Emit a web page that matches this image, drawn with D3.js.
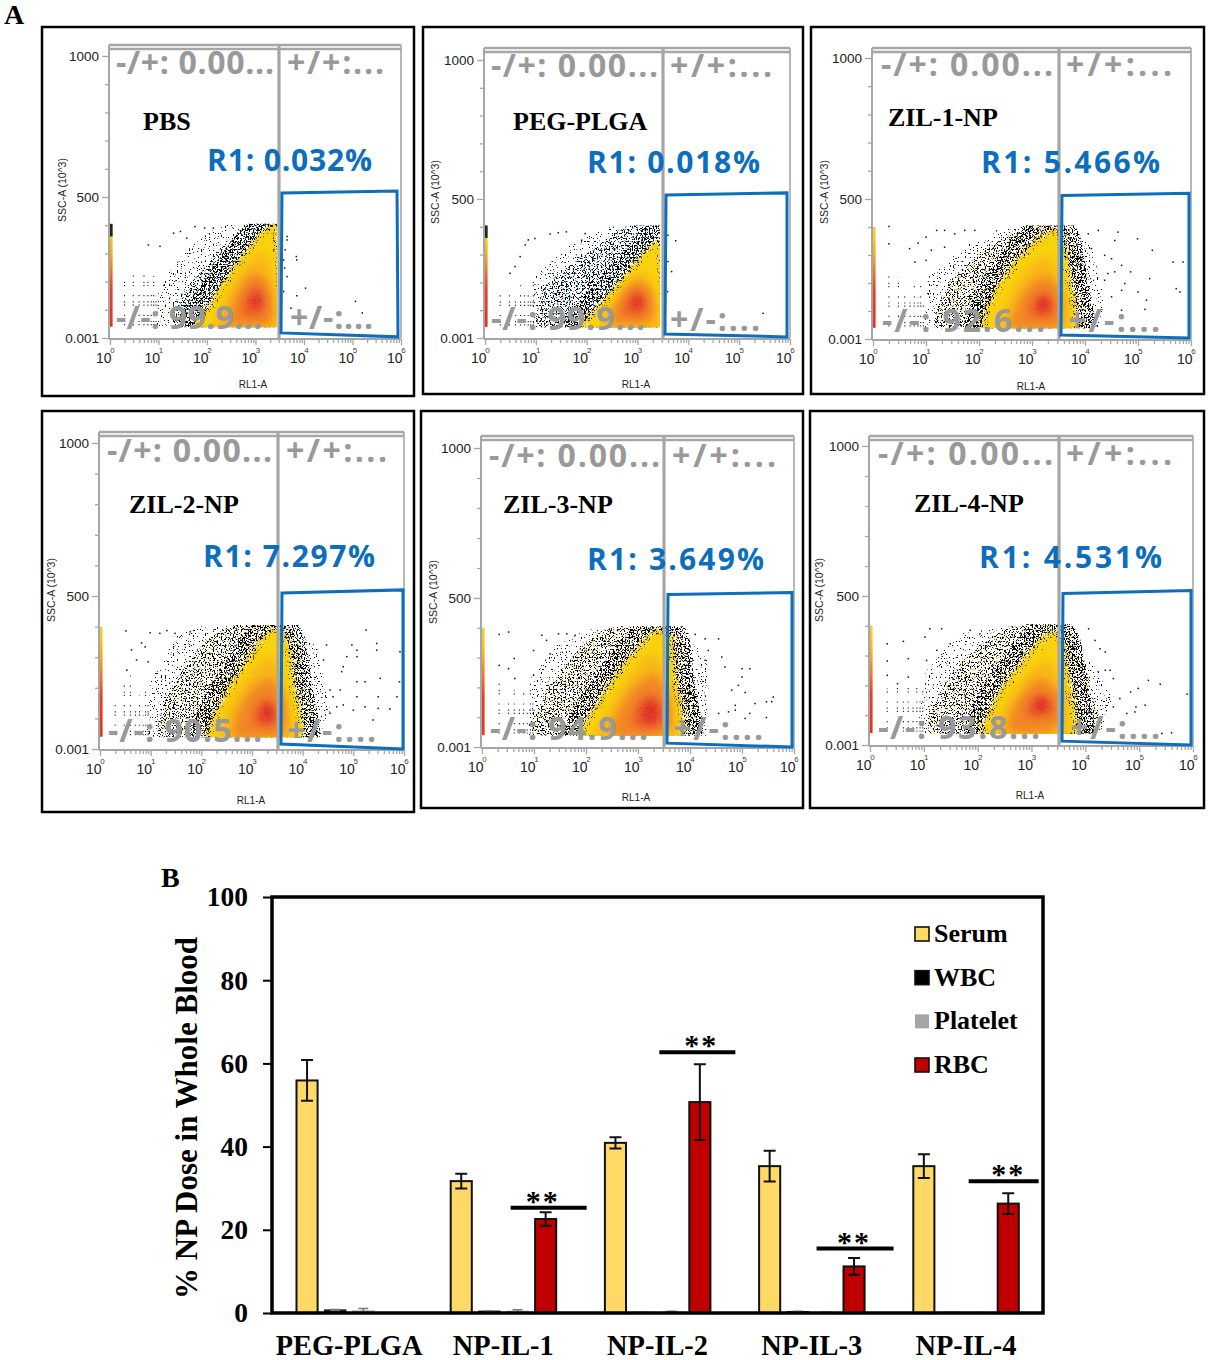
<!DOCTYPE html>
<html><head><meta charset="utf-8">
<style>
html,body{margin:0;padding:0;background:#fff}
svg{display:block}
text{white-space:pre}
</style>
<script src="https://cdn.jsdelivr.net/npm/d3@7"></script>
</head><body>
<svg id="c" width="1209" height="1360"></svg>
<script>
// ---------- Panel A data (x = log10 RL1-A, y = SSC-A) ----------
const panelNames = ["PBS","PEG-PLGA","ZIL-1-NP","ZIL-2-NP","ZIL-3-NP","ZIL-4-NP"];
const r1Labels = ["R1: 0.032%","R1: 0.018%","R1: 5.466%","R1: 7.297%","R1: 3.649%","R1: 4.531%"];
const quadLL = ["-/-: 99.9...","-/-: 99.9...","-/-: 92.6...","-/-: 90.5...","-/-: 94.9...","-/-: 93.8..."];
const quadUL = "-/+: 0.00...", quadUR = "+/+:...", quadLR = "+/-:...";
const yTicks = [0.001,500,1000];
const yMinor = [100,200,300,400,600,700,800,900];
const xDecades = [0,1,2,3,4,5,6];
const xMinorMult = [2,3,4,5,6,7,8,9];

const gates = [
 [[3.546,514],[5.918,521],[5.938,4],[3.526,18]],
 [[3.561,514],[5.941,522],[5.941,4],[3.541,14]],
 [[3.566,512],[5.962,520],[5.962,4],[3.547,14]],
 [[3.592,510],[5.980,520],[5.980,0],[3.572,16]],
 [[3.577,512],[5.962,518],[5.962,0],[3.558,13]],
 [[3.585,508],[5.963,518],[5.963,0],[3.567,13]]];

const cloudSparse = [
 [[0.95,40],[1.0,170],[1.3,255],[1.7,330],[2.1,380],[2.5,405],[3.44,405],[3.44,40]],
 [[0.92,40],[0.98,220],[1.7,340],[2.43,400],[3.44,405],[3.44,40]],
 [[0.97,40],[1.04,222],[1.8,340],[2.36,394],[3.5,405],[4.12,340],[4.37,140],[4.25,40]],
 [[0.92,36],[1.0,220],[1.45,367],[1.97,400],[3.7,405],[4.28,335],[4.54,127],[4.34,36]],
 [[0.89,36],[0.95,235],[1.47,347],[2.05,397],[3.84,391],[4.35,291],[4.35,36]],
 [[0.87,39],[1.05,262],[1.67,373],[2.54,398],[3.78,373],[4.52,162],[4.27,39]]];
const cloudDense = [
 [[1.35,25],[1.45,150],[1.9,240],[2.3,320],[2.7,385],[3.0,410],[3.5,410],[3.5,25]],
 [[1.11,25],[1.18,185],[2.1,317],[2.69,394],[3.0,410],[3.5,410],[3.5,25]],
 [[1.25,25],[1.42,198],[2.04,305],[2.67,388],[3.0,412],[3.6,412],[3.95,300],[4.06,150],[4.1,25]],
 [[1.25,25],[1.38,193],[2.04,345],[2.57,400],[3.0,415],[3.68,412],[4.0,300],[4.08,204],[4.18,25]],
 [[1.08,25],[1.21,180],[1.79,313],[2.3,391],[3.0,412],[3.71,410],[4.02,280],[4.1,180],[4.14,25]],
 [[1.18,25],[1.36,195],[1.92,318],[2.6,396],[3.2,412],[3.65,400],[3.98,280],[4.09,184],[4.18,25]]];
const cloudYellow = [
 [[1.75,25],[2.05,120],[2.4,215],[2.8,310],[3.1,375],[3.3,395],[3.44,395],[3.52,200],[3.5,25]],
 [[1.9,25],[2.4,149],[2.9,257],[3.25,330],[3.44,350],[3.52,200],[3.5,25]],
 [[2.1,25],[2.3,170],[2.7,280],[3.1,360],[3.4,392],[3.6,350],[3.72,220],[3.8,25]],
 [[2.17,25],[2.4,160],[2.85,280],[3.2,365],[3.5,395],[3.72,350],[3.85,200],[3.95,25]],
 [[1.92,25],[2.25,157],[2.7,270],[3.05,350],[3.35,392],[3.65,370],[3.75,220],[3.82,25]],
 [[2.1,25],[2.35,162],[2.8,275],[3.1,345],[3.38,382],[3.6,340],[3.72,200],[3.78,25]]];
const cloudAmber = [
 [[2.15,25],[2.3,110],[2.55,200],[2.9,275],[3.2,300],[3.38,200],[3.42,25]],
 [[2.3,25],[2.5,120],[2.75,190],[3.05,235],[3.3,190],[3.4,25]],
 [[2.4,25],[2.55,140],[2.9,245],[3.3,295],[3.55,200],[3.65,25]],
 [[2.4,25],[2.55,140],[3.0,255],[3.4,305],[3.65,200],[3.8,25]],
 [[2.2,25],[2.45,130],[2.85,240],[3.3,315],[3.6,200],[3.7,25]],
 [[2.35,25],[2.5,130],[2.95,240],[3.3,285],[3.55,190],[3.62,25]]];
const cloudOrange = [
 [[2.45,45],[2.5,110],[2.68,180],[2.95,230],[3.22,205],[3.36,120],[3.28,50]],
 [[2.5,55],[2.55,115],[2.75,170],[3.0,205],[3.25,175],[3.33,100],[3.18,55]],
 [[2.62,40],[2.7,115],[2.92,185],[3.25,225],[3.52,175],[3.58,90],[3.44,40]],
 [[2.65,40],[2.72,120],[3.0,195],[3.35,230],[3.63,170],[3.66,85],[3.5,40]],
 [[2.5,35],[2.62,120],[2.9,195],[3.3,245],[3.58,175],[3.62,80],[3.4,35]],
 [[2.58,45],[2.66,125],[2.92,190],[3.2,222],[3.5,175],[3.55,95],[3.34,45]]];
const cloudRed = [
 [[2.72,90],[2.8,150],[3.0,190],[3.18,160],[3.2,105],[3.05,75]],
 [[2.72,90],[2.78,135],[2.98,175],[3.15,150],[3.17,100],[3.0,80]],
 [[2.95,90],[3.0,135],[3.2,170],[3.4,140],[3.42,95],[3.25,75]],
 [[3.02,85],[3.08,135],[3.3,165],[3.5,130],[3.5,85],[3.3,70]],
 [[2.9,75],[2.98,140],[3.25,180],[3.48,140],[3.5,85],[3.25,60]],
 [[2.9,105],[2.98,150],[3.15,175],[3.38,150],[3.4,110],[3.15,90]]];
const cloudCore = [
 [[2.88,118],[2.95,150],[3.05,155],[3.12,125],[3.0,105]],
 [[2.88,115],[2.95,145],[3.05,150],[3.1,120],[3.0,105]],
 [[3.1,105],[3.15,140],[3.27,150],[3.33,115],[3.2,95]],
 [[3.18,100],[3.22,140],[3.36,145],[3.42,105],[3.3,90]],
 [[3.08,95],[3.15,150],[3.33,150],[3.4,100],[3.25,80]],
 [[3.05,125],[3.12,155],[3.25,155],[3.3,125],[3.18,110]]];
const cloudXMax = [3.44,3.44,6,6,6,6];
const cloudSpeck = ["#2f8db5","#2f8db5","#d9c41c","#d9c41c","#d9c41c","#d9c41c"];

const looseDots = [
 [[3.65,360],[3.65,348],[3.61,313],[3.84,289],[3.85,277],[3.58,277],[3.6,248],[3.65,218],[4.03,177],[3.85,150],[3.58,165],[5.06,130],[5.2,89],[3.73,106],[0.79,330],[1.03,325],[1.31,372],[1.45,378],[1.75,395],[1.95,390],[1.58,354],[2.13,390]],
 [[3.6,370],[3.75,350],[3.6,275],[3.67,239],[3.59,167],[5.47,89],[0.79,335],[0.85,353],[0.98,358],[1.28,374],[1.44,379],[1.6,382],[1.9,352],[0.49,233],[0.59,257],[0.69,293],[1.97,376]],
 [[4.62,382],[4.56,352],[4.99,358],[5.27,317],[5.85,275],[5.66,275],[5.72,180],[5.79,168],[5.22,216],[4.86,240],[4.69,263],[4.69,174],[5,168],[5.16,139],[5.13,106],[4.69,103],[4.75,198],[4.37,299],[4.5,287],[4.12,323],[4.06,376],[4.25,388],[4.43,234],[4.37,210],[4.5,151],[4.56,240],[0.3,402],[0.3,340],[0.69,323],[0.85,343],[1,364],[1.2,388],[1.35,388],[0.79,275],[1,281],[1.54,376],[1.73,388],[1.92,388],[1.35,328],[1.1,317]],
 [[5.25,389],[4.97,340],[5.07,323],[5.46,345],[5.46,323],[4.87,302],[4.8,269],[5.07,302],[5.92,318],[5.91,220],[5.53,231],[5.07,220],[5.23,220],[4.77,253],[4.47,340],[4.54,193],[4.74,193],[4.6,171],[4.8,144],[5,127],[5.23,138],[5.49,133],[5.72,131],[5.49,171],[5.39,95],[5.86,171],[4.41,291],[4.67,138],[5.07,171],[4.54,117],[0.51,386],[0.62,324],[0.82,347],[0.89,334],[0.99,380],[1.18,378],[1.32,387],[1.48,378],[1.78,383],[0.72,291],[0.95,285],[0.53,258],[1.45,334]],
 [[4.8,191],[4.93,207],[5.06,183],[5,235],[5,263],[5.15,263],[4.67,269],[4.61,302],[4.55,363],[4.29,363],[5.6,168],[5.47,152],[5.57,152],[5.25,146],[5.47,99],[5.15,113],[4.87,140],[4.74,118],[4.87,124],[5.06,96],[4.55,113],[4.35,324],[4.29,291],[4.1,378],[0.33,378],[0.51,386],[0.33,274],[0.62,297],[0.51,263],[0.63,230],[1.15,375],[1.24,358],[1.47,380],[1.63,380],[1.79,375],[0.99,324],[1.31,313],[0.99,241]],
 [[5.17,217],[5.39,204],[5.89,171],[4.98,190],[4.84,178],[5.11,134],[4.94,128],[4.92,111],[4.77,106],[5.6,41],[5.42,39],[4.46,251],[4.37,251],[4.24,245],[4.52,223],[4.37,312],[4.27,323],[4.18,351],[4.06,390],[4.64,156],[4.52,128],[0.62,348],[0.32,340],[0.32,282],[0.71,290],[1.11,390],[1.33,390],[1.02,362],[1.05,284],[1.24,318],[1.49,340],[1.86,385],[2.04,373],[0.32,234],[0.51,206],[0.71,228]]];

const stackColumns = [
 [[0.3,215],[0.48,240],[0.6,170],[0.7,240],[0.78,205],[0.85,170],[0.9,220],[0.95,150]],
 [[0.3,180],[0.48,175],[0.6,140],[0.7,190],[0.78,160],[0.85,185],[0.9,150],[0.95,205]],
 [[0.3,237],[0.48,220],[0.6,160],[0.7,130],[0.78,190],[0.85,150],[0.9,190],[0.95,120]],
 [[0.3,150],[0.48,210],[0.6,240],[0.7,130],[0.78,175],[0.85,110],[0.9,200],[0.95,150]],
 [[0.33,225],[0.51,160],[0.62,190],[0.72,130],[0.8,180],[0.87,120],[0.93,215],[0.98,160]],
 [[0.32,190],[0.51,200],[0.62,150],[0.71,205],[0.8,130],[0.87,200],[0.93,150],[0.98,180]]];

const stripStops = [[40,"#e8321e"],[170,"#ea3e20"],[240,"#f0762a"],[300,"#f4ab1f"],[360,"#f6cc1a"],[400,"#e4d24a"]];

// ---------- Panel B data ----------
const groups = ["PEG-PLGA","NP-IL-1","NP-IL-2","NP-IL-3","NP-IL-4"];
const seriesNames = ["Serum","WBC","Platelet","RBC"];
const serumValues = [55.9,31.7,40.9,35.3,35.3];
const serumErr = [4.9,1.8,1.35,3.7,2.85];
const wbcValues = [0.7,0.4,0.1,0.3,0.1];
const wbcErr = [0.15,0.1,0.05,0.15,0.05];
const plateletValues = [0.5,0.4,0.2,0.1,0.05];
const plateletErr = [0.6,0.4,0.2,0.1,0.05];
const rbcValues = [0,22.6,50.7,11.2,26.3];
const rbcErr = [0,1.6,9.1,2.0,2.5];
const sigHeights = [null,25.3,62.7,15.5,31.7];
const yTicksB = [0,20,40,60,80,100];

// ---------- Layout & styles ----------
const serif = '"Liberation Serif","Times New Roman",serif';
const sans = '"Liberation Sans",Arial,sans-serif';
const quadFont = '"Open Sans",sans-serif';
const layout = [
 {frame:[42,27,414,396],x:[110,401],y:[338,197,56],top:45,div:279,rt:401,title:[143,130],r1:[207,171,165],ul:[116,74,158],ur:[287,74,97],ll:[116,329,146],lr:[290,329,83],xl:[253,388],yl:[62,190]},
 {frame:[423,27,803,394],x:[485,790],y:[338,199,60],top:48,div:663,rt:790,title:[513,130],r1:[587,173,173],ul:[491,77,167],ur:[670,77,102],ll:[491,330,154],lr:[670,331,90],xl:[636,388],yl:[435,192]},
 {frame:[811,27,1204,394],x:[873,1191],y:[339,199,58],top:48,div:1059,rt:1191,title:[888,126],r1:[981,173,179],ul:[881,76,172],ur:[1066,76,106],ll:[882,332,163],lr:[1068,332,92],xl:[1031,390],yl:[824,192]},
 {frame:[42,411,414,812],x:[100,404],y:[749,596,443],top:432,div:278,rt:404,title:[129,513],r1:[203,567,172],ul:[107,462,165],ur:[286,462,101],ll:[108,742,154],lr:[287,742,89],xl:[251,804],yl:[51,590]},
 {frame:[421,411,803,808],x:[482,794],y:[747,598,448],top:436,div:664,rt:794,title:[503,513],r1:[587,570,177],ul:[489,467,171],ur:[672,467,104],ll:[490,740,158],lr:[673,740,90],xl:[636,801],yl:[433,592]},
 {frame:[810,411,1204,808],x:[870,1193],y:[745,596,446],top:436,div:1059,rt:1193,title:[914,512],r1:[979,568,183],ul:[878,465,175],ur:[1066,465,106],ll:[878,739,162],lr:[1070,739,90],xl:[1030,799],yl:[819,590]}];

const svg = d3.select("#c");
const defs = svg.append("defs");
function blurF(id,s){
  defs.append("filter").attr("id",id).attr("x","-25%").attr("y","-25%").attr("width","150%").attr("height","150%")
    .append("feGaussianBlur").attr("stdDeviation",s);
}
blurF("b2",1.6); blurF("b3",3); blurF("b4",4.5);
// rendering textures for the overplotted event clouds
function speckF(id,thr,seed,freq){
  const f = defs.append("filter").attr("id",id).attr("x","-30%").attr("y","-30%").attr("width","160%").attr("height","160%").attr("color-interpolation-filters","sRGB");
  f.append("feTurbulence").attr("type","fractalNoise").attr("baseFrequency",freq).attr("numOctaves",1).attr("seed",seed).attr("result","n");
  f.append("feColorMatrix").attr("in","n").attr("type","matrix").attr("values",`0 0 0 0 0  0 0 0 0 0  0 0 0 0 0  30 0 0 0 ${-30*thr}`).attr("result","m");
  f.append("feComposite").attr("in","SourceGraphic").attr("in2","m").attr("operator","in");
}
speckF("spk1",0.64,3,0.75);
speckF("spk2",0.575,7,0.75);
speckF("spk3",0.645,11,0.75);
speckF("spk4",0.54,17,0.75);
speckF("grain",0.52,23,0.9);
(function(){
  const f = defs.append("filter").attr("id","rough").attr("x","-20%").attr("y","-20%").attr("width","140%").attr("height","140%").attr("color-interpolation-filters","sRGB");
  f.append("feTurbulence").attr("type","fractalNoise").attr("baseFrequency",0.55).attr("numOctaves",2).attr("seed",5).attr("result","n");
  f.append("feDisplacementMap").attr("in","SourceGraphic").attr("in2","n").attr("scale",20).attr("xChannelSelector","R").attr("yChannelSelector","G");
})();

const lineGen = d3.line().curve(d3.curveCardinalClosed.tension(0.4));
const polyGen = d3.line();
const gray = "#a6a6a6";

const sg = defs.append("linearGradient").attr("id","stripG").attr("x1",0).attr("x2",0).attr("y1",1).attr("y2",0);
stripStops.forEach(s=>sg.append("stop").attr("offset",(s[0]-40)/360).attr("stop-color",s[1]));

layout.forEach((L,i)=>{
  const g = svg.append("g");
  const xS = d3.scaleLog().domain([1,1e6]).range(L.x);
  const yS = d3.scaleLinear().domain([0.001,500,1000]).range(L.y);
  const pt = d=>[xS(Math.pow(10,d[0])),yS(d[1])];

  // frame
  const F = L.frame;
  g.append("rect").attr("x",F[0]).attr("y",F[1]).attr("width",F[2]-F[0]).attr("height",F[3]-F[1])
    .attr("fill","#fff").attr("stroke","#000").attr("stroke-width",2.5);

  // clip for the population cloud
  const clipId = "clip"+i;
  defs.append("clipPath").attr("id",clipId).append("rect")
    .attr("x",L.x[0]+3).attr("y",yS(405)).attr("width",xS(Math.pow(10,cloudXMax[i]))-L.x[0]-3).attr("height",yS(38)-yS(405));
  const cloud = g.append("g").attr("clip-path",`url(#${clipId})`);
  const tint = cloudSpeck[i];
  const dSparse = polyGen(cloudSparse[i].map(pt)), dDense = lineGen(cloudDense[i].map(pt)), dYel = lineGen(cloudYellow[i].map(pt));
  cloud.append("path").attr("d",dSparse).attr("fill","#111").attr("filter","url(#spk1)");
  cloud.append("path").attr("d",dDense).attr("fill",tint).attr("filter","url(#spk3)");
  cloud.append("path").attr("d",dDense).attr("fill","#0a0a0a").attr("filter","url(#spk2)");
  cloud.append("path").attr("d",dYel).attr("fill","none").attr("stroke","#000").attr("stroke-width",34).attr("filter","url(#spk4)");
  cloud.append("path").attr("d",dYel).attr("fill","none").attr("stroke",tint).attr("stroke-width",20).attr("filter","url(#spk3)");
  const soft = (arr,col,f)=>cloud.append("path").attr("d",lineGen(arr.map(pt))).attr("fill",col).attr("filter",`url(#${f})`);
  soft(cloudYellow[i],"#f9d20e","rough");
  cloud.append("path").attr("d",dYel).attr("fill","none").attr("stroke","#111").attr("stroke-width",12).attr("filter","url(#spk1)").attr("opacity",0.7);
  soft(cloudAmber[i],"#f8b416","b4");
  cloud.append("path").attr("d",lineGen(cloudAmber[i].map(pt))).attr("fill","#fbd72a").attr("filter","url(#grain)").attr("opacity",0.22);
  soft(cloudOrange[i],"#f18526","b4");
  soft(cloudRed[i],"#ea552b","b4");
  soft(cloudCore[i],"#dd2f2a","b3");
  cloud.append("path").attr("d",lineGen(cloudOrange[i].map(pt))).attr("fill","#f59a20").attr("filter","url(#grain)").attr("opacity",0.2);

  // stacked low-value columns near the axis
  g.selectAll(".col"+i).data(stackColumns[i]).join("line")
    .attr("x1",d=>xS(Math.pow(10,d[0]))).attr("x2",d=>xS(Math.pow(10,d[0])))
    .attr("y1",yS(45)).attr("y2",d=>yS(d[1]))
    .attr("stroke","#222").attr("stroke-width",1.1).attr("stroke-dasharray","1.2 2 1.2 5 1.2 9");
  // loose events
  g.selectAll(".dot"+i).data(looseDots[i]).join("rect")
    .attr("x",d=>pt(d)[0]-0.7).attr("y",d=>pt(d)[1]-0.7).attr("width",1.5).attr("height",1.5).attr("fill","#111");
  // on-axis strip
  g.append("rect").attr("x",L.x[0]).attr("width",2.6).attr("y",yS(400)).attr("height",yS(40)-yS(400)).attr("fill","url(#stripG)");
  if(i<2) g.append("rect").attr("x",L.x[0]).attr("width",2.6).attr("y",yS(405)).attr("height",yS(360)-yS(405)).attr("fill","#222");

  // axes
  const minor = [];
  xDecades.slice(0,-1).forEach(k=>xMinorMult.forEach(m=>minor.push(m*Math.pow(10,k))));
  const axMinor = d3.axisBottom(xS).tickValues(minor).tickSize(4).tickFormat("");
  const axMajor = d3.axisBottom(xS).tickValues(xDecades.map(k=>Math.pow(10,k))).tickSize(6).tickPadding(8).tickFormat(()=>"10");
  const gxm = g.append("g").attr("transform",`translate(0,${L.y[0]+1})`).call(axMinor);
  const gx = g.append("g").attr("transform",`translate(0,${L.y[0]+1})`).call(axMajor);
  gx.selectAll("text").attr("text-anchor","end").attr("x",1).attr("font-family",sans).attr("font-size",14).attr("fill","#222");
  gx.selectAll(".tick").append("text").text((d,j)=>j)
    .attr("x",2).attr("y",14).attr("font-family",sans).attr("font-size",8).attr("fill","#444");
  const axYm = d3.axisLeft(yS).tickValues(yMinor).tickSize(4).tickFormat("");
  const axY = d3.axisLeft(yS).tickValues(yTicks).tickSize(7).tickPadding(3).tickFormat(d=>d===0.001?"0.001":d);
  const gym = g.append("g").attr("transform",`translate(${L.x[0]-1},0)`).call(axYm);
  const gy = g.append("g").attr("transform",`translate(${L.x[0]-1},0)`).call(axY);
  gy.selectAll("text").attr("font-family",sans).attr("font-size",13.5).attr("fill","#222");
  [gxm,gx,gym,gy].forEach(a=>{
    a.selectAll("path").attr("stroke",gray).attr("stroke-width",2);
    a.selectAll("line").attr("stroke",gray).attr("stroke-width",1.3);
  });
  gxm.select("path").remove(); gym.select("path").remove();
  gy.select("path").attr("d",`M0,${L.y[0]+1}V${L.top}`);
  gx.select("path").attr("d",`M${L.x[0]-1},0H${L.rt}`);

  // quadrant frame
  g.append("path").attr("d",`M${L.x[0]-1},${L.top}H${L.rt}M${L.x[0]-1},${L.top+4}H${L.rt}`).attr("stroke",gray).attr("stroke-width",2.6).attr("fill","none");
  g.append("path").attr("d",`M${L.rt},${L.top}V${L.y[0]}`).attr("stroke",gray).attr("stroke-width",1.6);
  g.append("path").attr("d",`M${L.div},${L.top}V${L.y[0]+2}`).attr("stroke",gray).attr("stroke-width",3.2);

  // axis titles
  g.append("text").text("RL1-A").attr("x",L.xl[0]).attr("y",L.xl[1]).attr("text-anchor","middle").attr("font-family",sans).attr("font-size",10).attr("fill","#222");
  g.append("text").text("SSC-A (10^3)").attr("transform",`translate(${L.yl[0]},${L.yl[1]}) rotate(-90)`).attr("dy","0.35em").attr("text-anchor","middle").attr("font-family",sans).attr("font-size",10.5).attr("fill","#222");

  // gate
  g.append("path").attr("d",polyGen(gates[i].map(pt))+"Z").attr("fill","none").attr("stroke","#0c6ebd").attr("stroke-width",3);

  // quadrant labels
  const q = (t,p)=>g.append("text").text(t).attr("x",p[0]).attr("y",p[1]).attr("font-family",quadFont).attr("font-weight",700)
     .attr("font-size",32).attr("fill","#999").attr("textLength",p[2]).attr("lengthAdjust","spacing");
  q(quadUL,L.ul); q(quadUR,L.ur); q(quadLL[i],L.ll); q(quadLR,L.lr);

  // sample title & gate percentage
  g.append("text").text(panelNames[i]).attr("x",L.title[0]).attr("y",L.title[1]).attr("font-family",serif).attr("font-weight",700).attr("font-size",26).attr("fill","#000");
  g.append("text").text(r1Labels[i]).attr("x",L.r1[0]).attr("y",L.r1[1]).attr("font-family",quadFont).attr("font-weight",700).attr("font-size",30)
    .attr("fill","#0c6ebd").attr("textLength",L.r1[2]).attr("lengthAdjust","spacing");
});

// panel letters
const letter = (t,x,y)=>svg.append("text").text(t).attr("x",x).attr("y",y).attr("font-family",serif).attr("font-weight",700).attr("font-size",28);
letter("A",4,24); letter("B",161,887);

// ---------- Panel B ----------
const M = {l:272,r:1043,t:897,b:1313};
const x0 = d3.scaleBand().domain(groups).range([M.l,M.r]);
const x1 = d3.scaleBand().domain(seriesNames).range([24.5,130]).paddingInner(0.25);
const yB = d3.scaleLinear().domain([0,100]).range([M.b,M.t]);
const colors = {Serum:"#ffd966",WBC:"#000",Platelet:"#a6a6a6",RBC:"#c00000"};
const rows = [
 ["Serum",serumValues,serumErr],["WBC",wbcValues,wbcErr],["Platelet",plateletValues,plateletErr],["RBC",rbcValues,rbcErr]];
const chart = svg.append("g");
rows.forEach(([name,vals,errs])=>{
  const dark = name==="Serum"||name==="RBC";
  const cx = k=>x0(groups[k])+x1(name)+x1.bandwidth()/2;
  chart.selectAll(".b"+name).data(vals).join("rect")
    .attr("x",(d,k)=>x0(groups[k])+x1(name)).attr("width",x1.bandwidth())
    .attr("y",d=>yB(d)).attr("height",d=>yB(0)-yB(d))
    .attr("fill",colors[name]).attr("stroke",dark?"#111":name==="WBC"?"#222":"#bbb").attr("stroke-width",dark?2:1.5);
  const ecol = dark?"#111":"#777";
  const sw = dark?2:1.5;
  vals.forEach((v,k)=>{
    if(v===0) return;
    const e = errs[k], c = cx(k), cap = dark?6:5;
    const yT=yB(v+e), yL=yB(Math.max(0,v-e));
    chart.append("path").attr("d",`M${c},${yT}V${yL}M${c-cap},${yT}H${c+cap}M${c-cap},${yL}H${c+cap}`).attr("stroke",ecol).attr("stroke-width",sw).attr("fill","none");
  });
});
// significance bars
const sigLineOffset = [0,3,-2.5,1,-4.6];
const sigStarOffset = [0,-3,1.5,0,0];
const sigHalf = [0,38,38,38.5,35];
sigHeights.forEach((h,k)=>{
  if(h===null) return;
  const c = x0(groups[k])+x1("RBC")+x1.bandwidth()/2;
  const m = c+sigLineOffset[k];
  chart.append("line").attr("x1",m-sigHalf[k]).attr("x2",m+sigHalf[k]).attr("y1",yB(h)).attr("y2",yB(h)).attr("stroke","#000").attr("stroke-width",4);
  chart.append("text").text("**").attr("x",c+sigStarOffset[k]).attr("y",yB(h)+3).attr("text-anchor","middle").attr("font-family",serif).attr("font-weight",700).attr("font-size",30).attr("letter-spacing",2);
});
// axes and frame
const axB = d3.axisLeft(yB).tickValues(yTicksB).tickSize(9).tickPadding(15);
const gB = svg.append("g").attr("transform",`translate(${M.l},0)`).call(axB);
gB.select("path").remove();
gB.selectAll("line").attr("stroke","#000").attr("stroke-width",2);
gB.selectAll("text").attr("font-family",serif).attr("font-weight",700).attr("font-size",27.5).attr("fill","#000");
const axX = d3.axisBottom(x0).tickSize(0).tickPadding(22);
const gX = svg.append("g").attr("transform",`translate(0,${M.b})`).call(axX);
gX.select("path").remove();
gX.selectAll("text").attr("font-family",serif).attr("font-weight",700).attr("font-size",28.4).attr("fill","#000");
svg.append("rect").attr("x",M.l).attr("y",M.t).attr("width",M.r-M.l).attr("height",M.b-M.t).attr("fill","none").attr("stroke","#000").attr("stroke-width",3.5);
svg.append("text").text("% NP Dose in Whole Blood").attr("transform",`translate(197,1118) rotate(-90)`).attr("text-anchor","middle")
  .attr("font-family",serif).attr("font-weight",700).attr("font-size",31);
// legend
const legY = d3.scalePoint().domain(seriesNames).range([934,1065]);
seriesNames.forEach(n=>{
  const y = legY(n);
  svg.append("rect").attr("x",915).attr("y",y-7).attr("width",14).attr("height",14).attr("fill",colors[n])
    .attr("stroke",n==="Platelet"?"none":"#111").attr("stroke-width",1.6);
  svg.append("text").text(n).attr("x",934).attr("y",y+8).attr("font-family",serif).attr("font-weight",700).attr("font-size",26);
});
</script>
</body></html>
